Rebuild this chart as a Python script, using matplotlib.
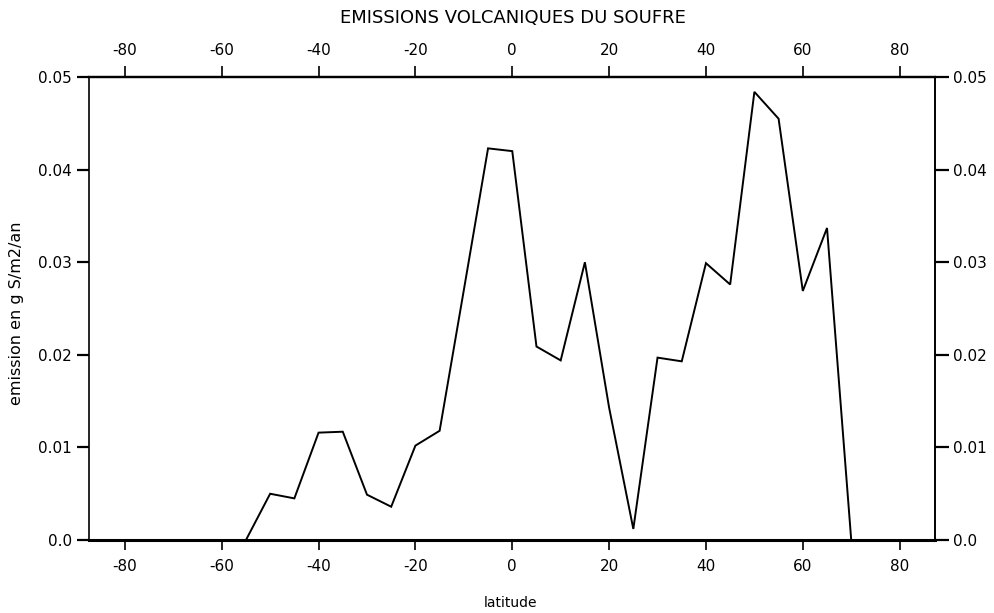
import matplotlib
matplotlib.use("Agg")
import matplotlib.pyplot as plt
from matplotlib.ticker import FixedLocator, FixedFormatter

# Latitudinal distribution of volcanic sulfur emissions (g S / m2 / yr)
latitude = [-90, -85, -80, -75, -70, -65, -60, -55, -50, -45, -40, -35, -30,
            -25, -20, -15, -10, -5, 0, 5, 10, 15, 20, 25, 30, 35, 40, 45,
            50, 55, 60, 65, 70]
emission = [0.0, 0.0, 0.0, 0.0, 0.0, 0.0, 0.0, 0.0, 0.0050, 0.0045, 0.0116,
            0.0117, 0.0049, 0.0036, 0.0102, 0.0118, 0.0270, 0.0423, 0.0420,
            0.0209, 0.0194, 0.0300, 0.0143, 0.0012, 0.0197, 0.0193, 0.0299,
            0.0276, 0.0484, 0.0455, 0.0269, 0.0337, 0.0]

x_ticks = [-80, -60, -40, -20, 0, 20, 40, 60, 80]
y_ticks = [0.0, 0.01, 0.02, 0.03, 0.04, 0.05]
y_tick_labels = ["0.0", "0.01", "0.02", "0.03", "0.04", "0.05"]

title = "EMISSIONS VOLCANIQUES DU SOUFRE"
x_label = "latitude"
y_label = "emission en g S/m2/an"

plt.rcParams["font.family"] = ["DejaVu Sans"]
plt.rcParams["axes.unicode_minus"] = False

fig = plt.figure(figsize=(9.95, 6.13), dpi=100)
ax = fig.add_axes([0.089, 0.119, 0.8507, 0.7553])

ax.plot(latitude, emission, color="black", lw=1.4, solid_joinstyle="miter")
ax.set_xlim(-87.5, 87.3)
ax.set_ylim(0.0, 0.05)

for side, lw in (("left", 1.2), ("right", 1.2), ("top", 1.6), ("bottom", 2.2)):
    ax.spines[side].set_linewidth(lw)
    ax.spines[side].set_color("black")

# bottom / left ticks
ax.xaxis.set_major_locator(FixedLocator(x_ticks))
ax.yaxis.set_major_locator(FixedLocator(y_ticks))
ax.yaxis.set_major_formatter(FixedFormatter(y_tick_labels))
ax.tick_params(axis="x", direction="out", length=7, width=1.2, pad=7,
               labelsize=11)
ax.tick_params(axis="y", direction="out", length=9, width=1.6, pad=3,
               labelsize=11)

# top axis repeats the latitude scale
top = ax.secondary_xaxis("top")
top.xaxis.set_major_locator(FixedLocator(x_ticks))
top.tick_params(direction="out", length=8, width=1.2, pad=6, labelsize=11)
top.spines["top"].set_linewidth(1.6)

# right axis repeats the emission scale
right = ax.secondary_yaxis("right")
right.yaxis.set_major_locator(FixedLocator(y_ticks))
right.yaxis.set_major_formatter(FixedFormatter(y_tick_labels))
right.tick_params(direction="out", length=10, width=1.6, pad=3, labelsize=11)
right.spines["right"].set_linewidth(1.2)

fig.text(0.516, 1 - 18 / 613, title, ha="center", va="center", fontsize=13)
fig.text(0.513, 1 - 603 / 613, x_label, ha="center", va="center", fontsize=10)
fig.text(17 / 995, 1 - 313 / 613, y_label, ha="center", va="center",
         rotation=90, fontsize=11.5)

fig.savefig("out.png", dpi=100, facecolor="white")
